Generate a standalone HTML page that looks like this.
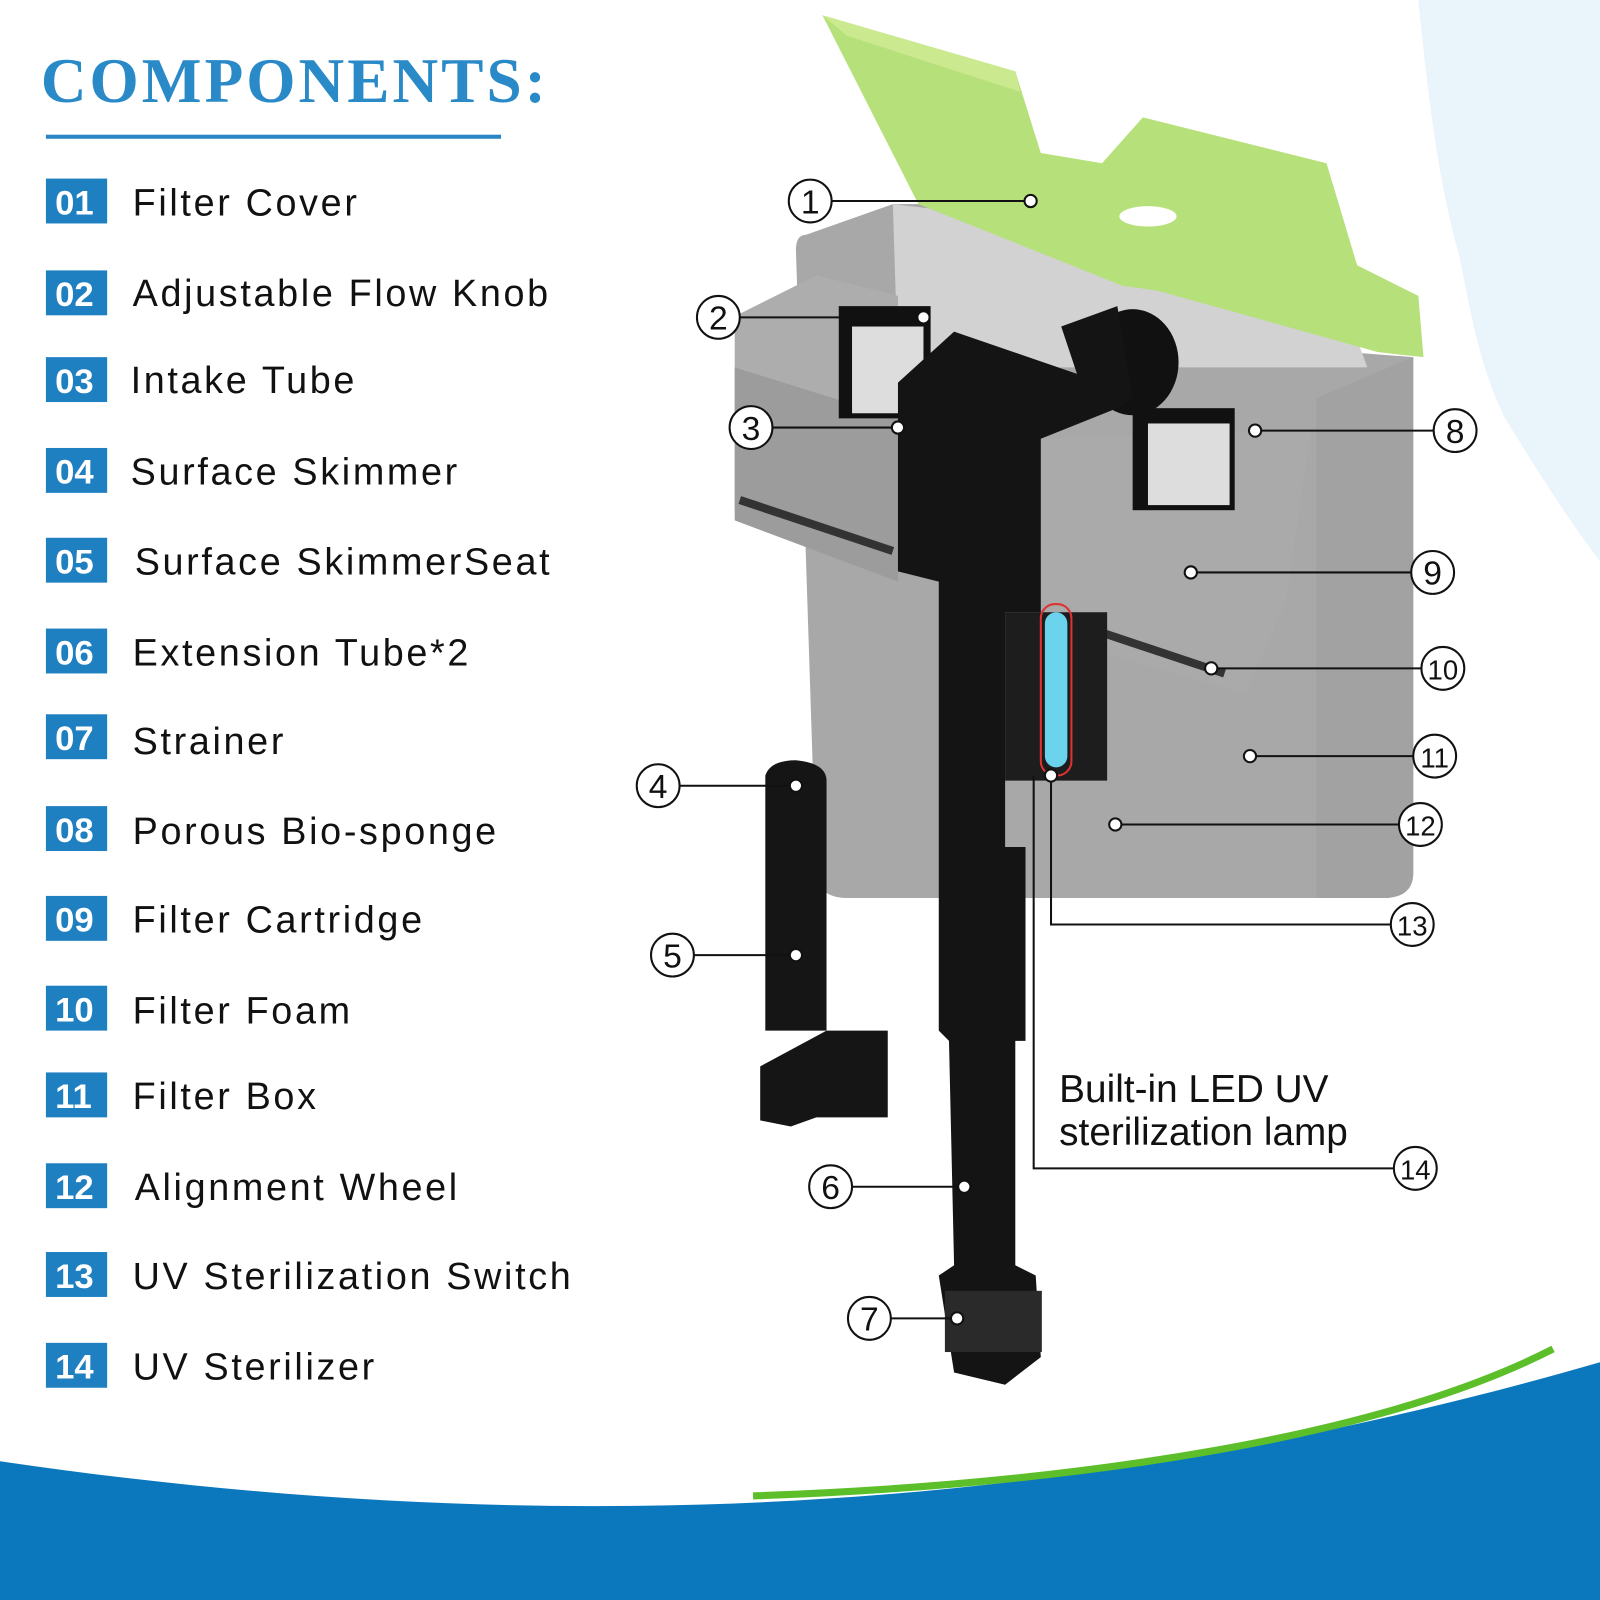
<!DOCTYPE html>
<html><head><meta charset="utf-8"><style>
html,body{margin:0;padding:0;background:#fff;width:1600px;height:1600px;overflow:hidden}
svg{display:block}
.t{font-family:"Liberation Sans",sans-serif;font-size:37px;fill:#111;letter-spacing:2.6px}
.b{font-family:"Liberation Sans",sans-serif;font-size:34px;font-weight:bold;fill:#fff}
.c{font-family:"Liberation Sans",sans-serif;font-size:33px;fill:#111;text-anchor:middle}
.ln{stroke:#111;stroke-width:2;fill:none}
</style></head><body>
<svg width="1600" height="1600" viewBox="0 0 1568 1568" xmlns="http://www.w3.org/2000/svg">
<rect width="1568" height="1568" fill="#fff"/>
<!-- water splash hint -->
<path d="M1390 0 L1568 0 L1568 550 C1530 500 1500 450 1475 410 C1450 360 1440 300 1430 250 C1410 180 1400 100 1390 0Z" fill="#e3f1fa" opacity="0.8"/>
<!-- bottom wave -->
<path d="M0 1432 C600 1520 1100 1470 1568 1335 L1568 1568 L0 1568Z" fill="#0b78bd"/>
<path d="M738 1466 C1050 1455 1350 1410 1522 1322" stroke="#5cbf2a" stroke-width="7" fill="none"/>
<!-- title -->
<text x="40" y="100" font-family="Liberation Serif,serif" font-weight="bold" font-size="62" fill="#2a8ac8" letter-spacing="3">COMPONENTS:</text>
<rect x="45" y="132" width="446" height="4" fill="#2a85c4"/>
<g>
<rect x="45" y="175" width="60" height="44" fill="#1e7fc1"/><text class="b" x="54" y="210">01</text><text class="t" x="130" y="211">Filter Cover</text>
<rect x="45" y="265" width="60" height="44" fill="#1e7fc1"/><text class="b" x="54" y="300">02</text><text class="t" x="130" y="300">Adjustable Flow Knob</text>
<rect x="45" y="350" width="60" height="44" fill="#1e7fc1"/><text class="b" x="54" y="385">03</text><text class="t" x="128" y="385">Intake Tube</text>
<rect x="45" y="439" width="60" height="44" fill="#1e7fc1"/><text class="b" x="54" y="474">04</text><text class="t" x="128" y="475">Surface Skimmer</text>
<rect x="45" y="527" width="60" height="44" fill="#1e7fc1"/><text class="b" x="54" y="562">05</text><text class="t" x="132" y="563">Surface SkimmerSeat</text>
<rect x="45" y="616" width="60" height="44" fill="#1e7fc1"/><text class="b" x="54" y="651">06</text><text class="t" x="130" y="652">Extension Tube*2</text>
<rect x="45" y="700" width="60" height="44" fill="#1e7fc1"/><text class="b" x="54" y="735">07</text><text class="t" x="130" y="739">Strainer</text>
<rect x="45" y="790" width="60" height="44" fill="#1e7fc1"/><text class="b" x="54" y="825">08</text><text class="t" x="130" y="827">Porous Bio-sponge</text>
<rect x="45" y="878" width="60" height="44" fill="#1e7fc1"/><text class="b" x="54" y="913">09</text><text class="t" x="130" y="914">Filter Cartridge</text>
<rect x="45" y="966" width="60" height="44" fill="#1e7fc1"/><text class="b" x="54" y="1001">10</text><text class="t" x="130" y="1003">Filter Foam</text>
<rect x="45" y="1051" width="60" height="44" fill="#1e7fc1"/><text class="b" x="54" y="1086">11</text><text class="t" x="130" y="1087">Filter Box</text>
<rect x="45" y="1140" width="60" height="44" fill="#1e7fc1"/><text class="b" x="54" y="1175">12</text><text class="t" x="132" y="1176">Alignment Wheel</text>
<rect x="45" y="1227" width="60" height="44" fill="#1e7fc1"/><text class="b" x="54" y="1262">13</text><text class="t" x="130" y="1263">UV Sterilization Switch</text>
<rect x="45" y="1316" width="60" height="44" fill="#1e7fc1"/><text class="b" x="54" y="1351">14</text><text class="t" x="130" y="1352">UV Sterilizer</text>
</g>
<!-- device: box -->
<path d="M790 230 Q780 230 780 245 L800 860 Q805 880 830 880 L1360 880 Q1385 878 1385 855 L1385 350 L1320 345 L1300 200 L875 200 Z" fill="#999" opacity="0.85"/>
<path d="M875 200 L1300 250 L1340 360 L880 360Z" fill="#d2d2d2"/>
<path d="M1290 390 L1385 350 L1385 855 Q1385 878 1360 880 L1290 880Z" fill="#a2a2a2"/>
<!-- skimmer left/right trays -->
<path d="M720 310 L800 270 L880 290 L880 570 L720 500Z" fill="#adadad"/>
<path d="M720 360 L880 410 L880 570 L720 510Z" fill="#9c9c9c"/>
<path d="M725 490 L875 540" stroke="#333" stroke-width="8"/>
<path d="M1015 430 L1285 420 L1260 590 L1220 680 L1015 620Z" fill="#aaa"/>
<path d="M1050 610 L1200 660" stroke="#333" stroke-width="8"/>
<!-- cartridges -->
<rect x="822" y="300" width="90" height="110" fill="#111"/><rect x="835" y="320" width="70" height="85" fill="#ddd"/>
<rect x="1110" y="400" width="100" height="100" fill="#111"/><rect x="1125" y="415" width="80" height="80" fill="#ddd"/>
<!-- knob -->
<ellipse cx="1110" cy="355" rx="45" ry="52" fill="#111"/>
<!-- black T tube -->
<path d="M880 375 L935 325 L1095 380 L1095 400 L1020 430 L1020 600 L985 600 L985 830 L1005 830 L1005 1020 L995 1020 L995 1240 L1015 1250 L1020 1330 L985 1357 L935 1345 L920 1250 L935 1240 L930 1020 L920 1010 L920 570 L880 560Z" fill="#141414"/>
<path d="M1040 320 L1095 300 L1110 390 L1095 400 L1060 380Z" fill="#141414"/>
<rect x="985" y="600" width="100" height="165" fill="#1d1d1d"/>
<rect x="1020" y="592" width="30" height="168" rx="14" fill="none" stroke="#d33" stroke-width="2"/>
<rect x="1024" y="600" width="22" height="152" rx="11" fill="#6cd3ee"/>
<rect x="926" y="1265" width="95" height="60" fill="#2a2a2a"/>
<!-- green lid -->
<path d="M806 15 L995 70 L1020 150 L1080 160 L1120 115 L1300 160 L1330 260 L1390 290 L1395 350 L1350 345 L1135 285 L1100 280 L900 200 Z" fill="#b6e07a"/>
<path d="M806 15 L995 70 L1000 90 L830 35Z" fill="#cbe98f"/>
<ellipse cx="1125" cy="212" rx="28" ry="10" fill="#fff"/>
<!-- skimmer part 4/5 -->
<path d="M750 760 Q755 745 780 745 Q810 748 810 765 L810 1010 L750 1010Z" fill="#151515"/>
<path d="M745 1045 L810 1010 L870 1010 L870 1095 L800 1095 L775 1104 L745 1098Z" fill="#151515"/>
<!-- connector lines -->
<g class="ln">
<line x1="815" y1="197" x2="1010" y2="197"/>
<line x1="725" y1="311" x2="905" y2="311"/>
<line x1="757" y1="419" x2="880" y2="419"/>
<line x1="1230" y1="422" x2="1405" y2="422"/>
<line x1="1167" y1="561" x2="1383" y2="561"/>
<line x1="1187" y1="655" x2="1393" y2="655"/>
<line x1="1225" y1="741" x2="1385" y2="741"/>
<line x1="1093" y1="808" x2="1371" y2="808"/>
<polyline points="1030,760 1030,906 1363,906"/>
<polyline points="1013,760 1013,1145 1366,1145"/>
<line x1="666" y1="770" x2="780" y2="770"/>
<line x1="680" y1="936" x2="780" y2="936"/>
<line x1="835" y1="1163" x2="945" y2="1163"/>
<line x1="873" y1="1292" x2="938" y2="1292"/>
</g>
<g fill="#fff" stroke="#111" stroke-width="2">
<circle cx="1010" cy="197" r="6"/><circle cx="905" cy="311" r="6"/><circle cx="880" cy="419" r="6"/>
<circle cx="1230" cy="422" r="6"/><circle cx="1167" cy="561" r="6"/><circle cx="1187" cy="655" r="6"/>
<circle cx="1225" cy="741" r="6"/><circle cx="1093" cy="808" r="6"/><circle cx="1030" cy="760" r="6"/>
<circle cx="780" cy="770" r="6"/><circle cx="780" cy="936" r="6"/><circle cx="945" cy="1163" r="6"/><circle cx="938" cy="1292" r="6"/>
</g>
<g fill="#fff" stroke="#111" stroke-width="2">
<circle cx="794" cy="197" r="21"/><circle cx="704" cy="311" r="21"/><circle cx="736" cy="419" r="21"/>
<circle cx="1426" cy="422" r="21"/><circle cx="1404" cy="561" r="21"/><circle cx="1414" cy="655" r="21"/>
<circle cx="1406" cy="741" r="21"/><circle cx="1392" cy="808" r="21"/><circle cx="1384" cy="906" r="21"/>
<circle cx="1387" cy="1145" r="21"/><circle cx="645" cy="770" r="21"/><circle cx="659" cy="936" r="21"/>
<circle cx="814" cy="1163" r="21"/><circle cx="852" cy="1292" r="21"/>
</g>
<g class="c">
<text x="794" y="209">1</text><text x="704" y="323">2</text><text x="736" y="431">3</text>
<text x="1426" y="434">8</text><text x="1404" y="573">9</text><text x="1414" y="666" font-size="27">10</text>
<text x="1406" y="752" font-size="27">11</text><text x="1392" y="819" font-size="27">12</text><text x="1384" y="917" font-size="27">13</text>
<text x="1387" y="1156" font-size="27">14</text><text x="645" y="782">4</text><text x="659" y="948">5</text>
<text x="814" y="1175">6</text><text x="852" y="1304">7</text>
</g>
<text x="1038" y="1080" font-family="Liberation Sans,sans-serif" font-size="38" fill="#111">Built-in LED UV</text>
<text x="1038" y="1122" font-family="Liberation Sans,sans-serif" font-size="38" fill="#111">sterilization lamp</text>
</svg>
</body></html>
